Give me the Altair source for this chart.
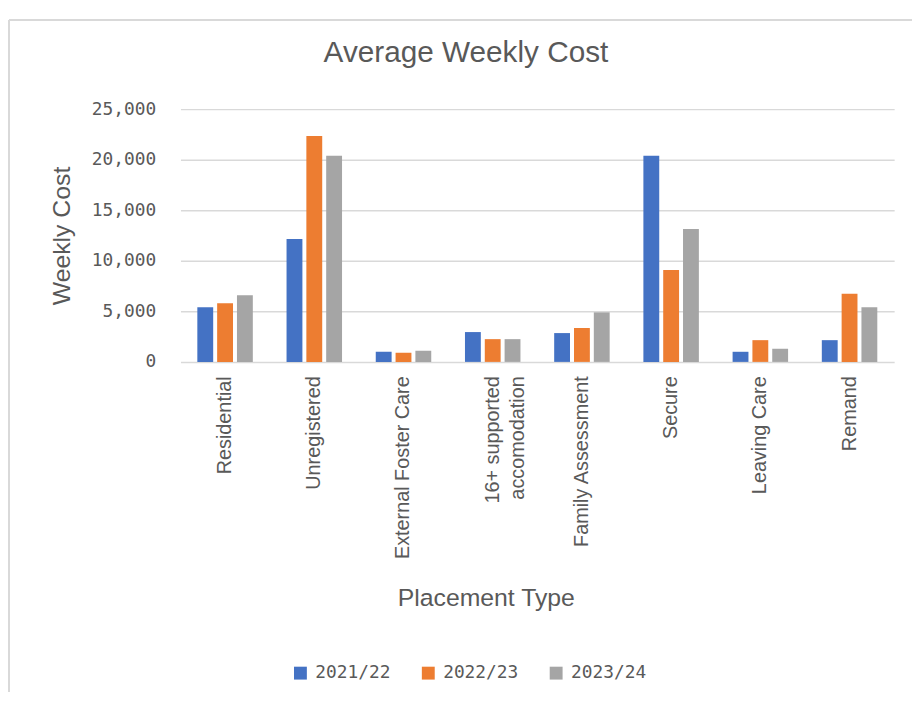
import altair as alt
import pandas as pd

categories = ["Residential", "Unregistered", "External Foster Care",
              "16+ supported accomodation", "Family Assessment", "Secure",
              "Leaving Care", "Remand"]
years = ["2021/22", "2022/23", "2023/24"]
v2021 = [5400, 12150, 1000, 2950, 2850, 20400, 1000, 2150]
v2022 = [5800, 22350, 900, 2250, 3350, 9100, 2150, 6750]
v2023 = [6600, 20400, 1100, 2250, 4900, 13150, 1300, 5400]
colors = ["#4472C4", "#ED7D31", "#A5A5A5"]
y_ticks = [0, 5000, 10000, 15000, 20000, 25000]

rows = []
for yr, vals in zip(years, [v2021, v2022, v2023]):
    for c, v in zip(categories, vals):
        rows.append({"Placement Type": c, "Year": yr, "Weekly Cost": v})
df = pd.DataFrame(rows)

TXT = "#595959"
SANS = "Liberation Sans"
MONO = "DejaVu Sans Mono"

bars = alt.Chart(df).mark_bar().encode(
    x=alt.X("Placement Type:N", sort=categories,
            scale=alt.Scale(paddingInner=0.378, paddingOuter=0.189),
            axis=alt.Axis(
                title="Placement Type", labelAngle=-90, labelFont=SANS,
                labelFontSize=20, labelColor=TXT, labelPadding=14,
                labelLineHeight=26, labelLimit=400,
                labelExpr="datum.value == '16+ supported accomodation' ? ['16+ supported', 'accomodation'] : datum.value",
                ticks=False, tickSize=0, domain=False,
                titleFont=SANS, titleFontSize=25, titleColor=TXT,
                titleFontWeight="normal", titleX=308, titleY=246,
                titleBaseline="alphabetic", titleAlign="center")),
    xOffset=alt.XOffset("Year:N", sort=years,
                        scale=alt.Scale(paddingInner=0.2, paddingOuter=0)),
    y=alt.Y("Weekly Cost:Q", scale=alt.Scale(domain=[0, 25000], nice=False),
            axis=alt.Axis(
                title="Weekly Cost", values=y_ticks, format=",.0f",
                labelFont=MONO, labelFontSize=18, labelColor=TXT,
                labelPadding=25, ticks=False, tickSize=0, domain=False,
                gridColor="#D9D9D9", gridWidth=1.5,
                titleFont=SANS, titleFontSize=25, titleColor=TXT,
                titleFontWeight="normal", titleX=-112, titleY=127.5,
                titleBaseline="alphabetic", titleAngle=-90)),
    color=alt.Color("Year:N", sort=years,
                    scale=alt.Scale(domain=years, range=colors),
                    legend=alt.Legend(
                        title=None, orient="none", direction="horizontal",
                        legendX=112, legendY=560, symbolType="square",
                        symbolSize=169, symbolStrokeWidth=0,
                        labelFont=MONO, labelFontSize=18, labelColor=TXT,
                        labelOffset=6, columnPadding=29)),
)

border_left = alt.Chart(df).mark_rule(color="#D9D9D9", strokeWidth=1.5).encode(
    x=alt.value(-173), y=alt.value(-90), y2=alt.value(700))
border_top = alt.Chart(df).mark_rule(color="#D9D9D9", strokeWidth=1.5).encode(
    x=alt.value(-173), x2=alt.value(760), y=alt.value(-90))

chart = alt.layer(border_left, border_top, bars).properties(
    width=720, height=255,
    title=alt.TitleParams("Average Weekly Cost", font=SANS, fontSize=30,
                          color=TXT, fontWeight="normal", anchor="middle",
                          baseline="alphabetic", dx=-72, dy=73, offset=0),
    autosize=alt.AutoSizeParams(type="none"),
    padding={"left": 174, "top": 99, "right": 18, "bottom": 330},
).configure_view(stroke=None)

chart.save("out.html", embed_options={"renderer": "svg", "actions": False})
